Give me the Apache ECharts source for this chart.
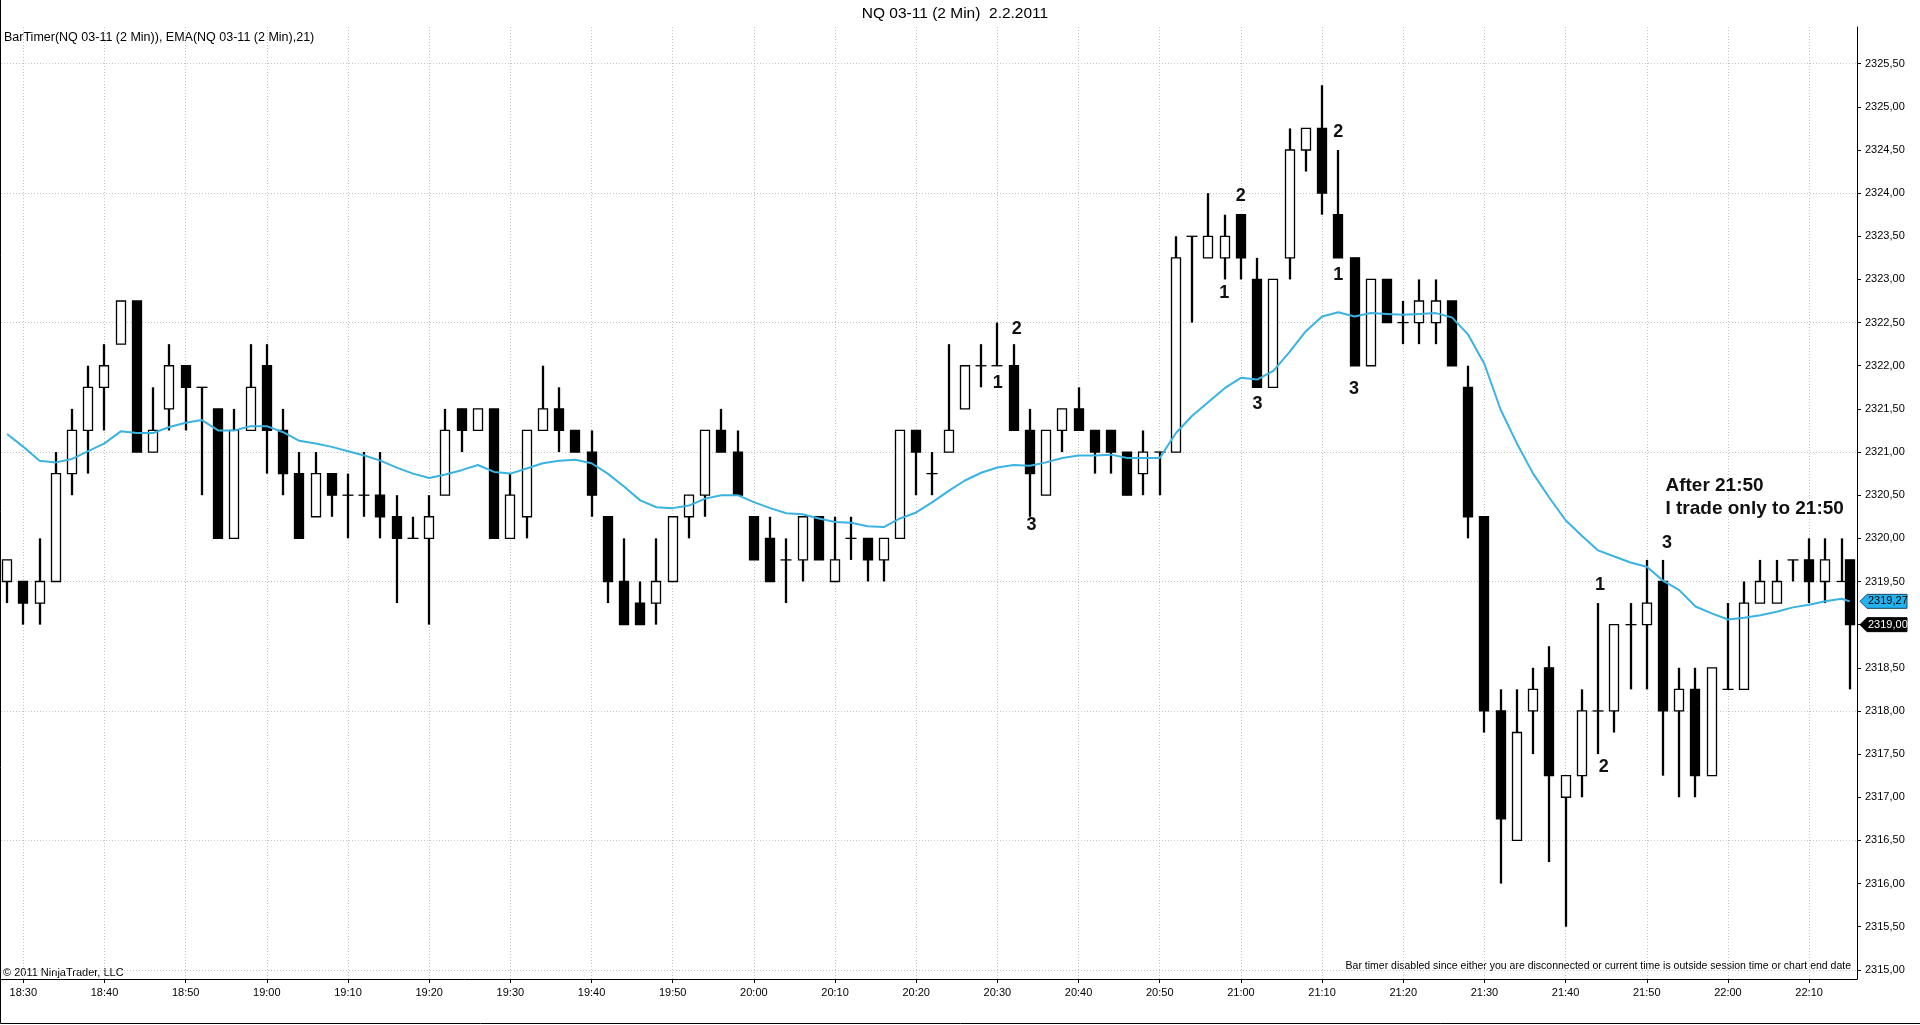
<!DOCTYPE html>
<html><head><meta charset="utf-8">
<script src="https://cdn.jsdelivr.net/npm/echarts/dist/echarts.min.js"></script>
<style>html,body{margin:0;padding:0;background:#fff;overflow:hidden}#c{width:1920px;height:1025px}</style>
</head><body><div id="c"></div>
<script>
// ---- data ----
const times = [
 "18:28",
 "18:30","18:32","18:34","18:36","18:38", "18:40","18:42","18:44","18:46","18:48",
 "18:50","18:52","18:54","18:56","18:58", "19:00","19:02","19:04","19:06","19:08",
 "19:10","19:12","19:14","19:16","19:18", "19:20","19:22","19:24","19:26","19:28",
 "19:30","19:32","19:34","19:36","19:38", "19:40","19:42","19:44","19:46","19:48",
 "19:50","19:52","19:54","19:56","19:58", "20:00","20:02","20:04","20:06","20:08",
 "20:10","20:12","20:14","20:16","20:18", "20:20","20:22","20:24","20:26","20:28",
 "20:30","20:32","20:34","20:36","20:38", "20:40","20:42","20:44","20:46","20:48",
 "20:50","20:52","20:54","20:56","20:58", "21:00","21:02","21:04","21:06","21:08",
 "21:10","21:12","21:14","21:16","21:18", "21:20","21:22","21:24","21:26","21:28",
 "21:30","21:32","21:34","21:36","21:38", "21:40","21:42","21:44","21:46","21:48",
 "21:50","21:52","21:54","21:56","21:58", "22:00","22:02","22:04","22:06","22:08",
 "22:10","22:12","22:14",
 "22:15"
];
const opens = [
 2319.5,
 2319.5,2319.25,2319.5,2320.75,2321.25, 2321.75,2322.25,2322.75,2321.0,2321.5,
 2322.0,2321.75,2321.5,2320.0,2321.25, 2322.0,2321.25,2320.75,2320.25,2320.75,
 2320.5,2320.5,2320.5,2320.25,2320.0, 2320.0,2320.5,2321.5,2321.25,2321.5,
 2320.0,2320.25,2321.25,2321.5,2321.25, 2321.0,2320.25,2319.5,2319.25,2319.25,
 2319.5,2320.25,2320.5,2321.25,2321.0, 2320.25,2320.0,2319.75,2319.75,2320.25,
 2319.5,2320.0,2320.0,2319.75,2320.0, 2321.25,2320.75,2321.0,2321.5,2322.0,
 2322.0,2322.0,2321.25,2320.5,2321.25, 2321.5,2321.25,2321.25,2321.0,2320.75,
 2321.0,2321.0,2323.5,2323.25,2323.25, 2323.75,2323.0,2321.75,2323.25,2324.5,
 2324.75,2323.75,2323.25,2322.0,2323.0, 2322.5,2322.5,2322.5,2322.75,2321.75,
 2320.25,2318.0,2316.5,2318.0,2318.5, 2317.0,2317.25,2318.0,2318.0,2319.0,
 2319.0,2319.5,2318.0,2318.25,2317.25, 2318.25,2318.25,2319.25,2319.25,2319.75,
 2319.75,2319.5,2319.5,
 2319.75
];
const highs = [
 2319.75,
 2319.5,2320.0,2321.0,2321.5,2322.0, 2322.25,2322.75,2322.75,2321.75,2322.25,
 2322.0,2321.75,2321.5,2321.5,2322.25, 2322.25,2321.5,2321.0,2321.0,2320.75,
 2320.75,2321.0,2321.0,2320.5,2320.25, 2320.5,2321.5,2321.5,2321.5,2321.5,
 2320.75,2321.25,2322.0,2321.75,2321.25, 2321.25,2320.25,2320.0,2319.5,2320.0,
 2320.25,2320.5,2321.25,2321.5,2321.25, 2320.25,2320.25,2320.0,2320.25,2320.25,
 2320.25,2320.25,2320.0,2320.0,2321.25, 2321.25,2321.0,2322.25,2322.0,2322.25,
 2322.5,2322.25,2321.5,2321.25,2321.5, 2321.75,2321.25,2321.25,2321.0,2321.25,
 2321.0,2323.5,2323.5,2324.0,2323.75, 2323.75,2323.25,2323.0,2324.75,2324.75,
 2325.25,2324.5,2323.25,2323.0,2323.0, 2322.75,2323.0,2323.0,2322.75,2322.0,
 2320.25,2318.25,2318.25,2318.5,2318.75, 2317.25,2318.25,2319.25,2319.0,2319.25,
 2319.75,2319.75,2318.5,2318.5,2318.5, 2319.25,2319.5,2319.75,2319.75,2319.75,
 2320.0,2320.0,2320.0,
 2319.75
];
const lows = [
 2319.25,
 2319.0,2319.0,2319.5,2320.5,2320.75, 2321.25,2322.25,2321.0,2321.0,2321.25,
 2321.25,2320.5,2320.0,2320.0,2321.25, 2320.75,2320.5,2320.0,2320.25,2320.25,
 2320.0,2320.25,2320.0,2319.25,2320.0, 2319.0,2320.5,2321.0,2321.25,2320.0,
 2320.0,2320.0,2321.25,2321.0,2321.0, 2320.25,2319.25,2319.0,2319.0,2319.0,
 2319.5,2320.0,2320.25,2321.0,2320.5, 2319.75,2319.5,2319.25,2319.5,2319.75,
 2319.5,2319.75,2319.5,2319.5,2320.0, 2320.5,2320.5,2321.0,2321.5,2321.75,
 2322.0,2321.25,2320.25,2320.5,2321.0, 2321.25,2320.75,2320.75,2320.5,2320.5,
 2320.5,2321.0,2322.5,2323.25,2323.0, 2323.0,2321.75,2321.75,2323.0,2324.25,
 2323.75,2323.25,2322.0,2322.0,2322.5, 2322.25,2322.25,2322.25,2322.0,2320.0,
 2317.75,2316.0,2316.5,2317.5,2316.25, 2315.5,2317.0,2317.5,2317.75,2318.25,
 2318.25,2317.25,2317.0,2317.0,2317.25, 2318.25,2318.25,2319.25,2319.25,2319.5,
 2319.25,2319.25,2319.5,
 2318.25
];
const closes = [
 2319.75,
 2319.25,2319.5,2320.75,2321.25,2321.75, 2322.0,2322.75,2321.0,2321.25,2322.0,
 2321.75,2321.75,2320.0,2321.25,2321.75, 2321.25,2320.75,2320.0,2320.75,2320.5,
 2320.5,2320.5,2320.25,2320.0,2320.0, 2320.25,2321.25,2321.25,2321.5,2320.0,
 2320.5,2321.25,2321.5,2321.25,2321.0, 2320.5,2319.5,2319.0,2319.0,2319.5,
 2320.25,2320.5,2321.25,2321.0,2320.5, 2319.75,2319.5,2319.75,2320.25,2319.75,
 2319.75,2320.0,2319.75,2320.0,2321.25, 2321.0,2320.75,2321.25,2322.0,2322.0,
 2322.0,2321.25,2320.75,2321.25,2321.5, 2321.25,2321.0,2321.0,2320.5,2321.0,
 2321.0,2323.25,2323.5,2323.5,2323.5, 2323.25,2321.75,2323.0,2324.5,2324.75,
 2324.0,2323.25,2322.0,2323.0,2322.5, 2322.5,2322.75,2322.75,2322.0,2320.25,
 2318.0,2316.75,2317.75,2318.25,2317.25, 2317.25,2318.0,2318.0,2319.0,2319.0,
 2319.25,2318.0,2318.25,2317.25,2318.5, 2318.25,2319.25,2319.5,2319.5,2319.75,
 2319.5,2319.75,2319.5,
 2319.0
];
const ema21 = [
 2321.21,
 2321.06,2320.90,2320.88,2320.92,2321.01, 2321.10,2321.24,2321.22,2321.22,2321.29,
 2321.34,2321.37,2321.25,2321.25,2321.30, 2321.30,2321.23,2321.13,2321.10,2321.06,
 2321.01,2320.96,2320.90,2320.82,2320.75, 2320.70,2320.74,2320.79,2320.85,2320.77,
 2320.75,2320.81,2320.87,2320.90,2320.91, 2320.87,2320.75,2320.60,2320.44,2320.36,
 2320.35,2320.38,2320.46,2320.50,2320.50, 2320.42,2320.35,2320.29,2320.28,2320.23,
 2320.19,2320.18,2320.14,2320.13,2320.23, 2320.30,2320.42,2320.55,2320.67,2320.76,
 2320.82,2320.85,2320.84,2320.88,2320.93, 2320.96,2320.96,2320.97,2320.93,2320.93,
 2320.93,2321.22,2321.42,2321.58,2321.74, 2321.86,2321.84,2321.94,2322.16,2322.40,
 2322.57,2322.62,2322.57,2322.61,2322.60, 2322.59,2322.60,2322.61,2322.56,2322.36,
 2322.02,2321.49,2321.10,2320.75,2320.47, 2320.21,2320.03,2319.86,2319.79,2319.72,
 2319.67,2319.51,2319.40,2319.21,2319.13, 2319.06,2319.08,2319.11,2319.15,2319.20,
 2319.23,2319.27,2319.30,
 2319.27
];
const timeTicks = ["18:30","18:40","18:50","19:00","19:10","19:20","19:30","19:40","19:50","20:00","20:10","20:20",
 "20:30","20:40","20:50","21:00","21:10","21:20","21:30","21:40","21:50","22:00","22:10"];
const priceTicks = [2315.0,2315.5,2316.0,2316.5,2317.0,2317.5,2318.0,2318.5,2319.0,2319.5,2320.0,2320.5,
 2321.0,2321.5,2322.0,2322.5,2323.0,2323.5,2324.0,2324.5,2325.0,2325.5];
const priceGridLines = [2315.0,2316.5,2318.0,2319.5,2321.0,2322.5,2324.0,2325.5];
// annotations: time (minutes after midnight), price, text
const annoMinutes = [1232.4,1230.05,1234.2,1257.96,1259.98,1262.06,1272.0,1272.0,1273.94,1304.25,1304.7,1312.5,1312.3,1312.3];
const annoPrices  = [2322.43,2321.80,2320.16,2322.84,2323.97,2321.56,2324.71,2323.05,2321.73,2319.46,2317.35,2319.95,2320.61,2320.34];
const annoTexts   = ["2","1","3","1","2","3","2","1","3","1","2","3","After 21:50","I trade only to 21:50"];

// ---- build ----
const FONT = '"Liberation Sans", Arial, sans-serif';
const toMin = s => { const p = s.split(':'); return (+p[0]) * 60 + (+p[1]); };
const fmtTime = v => { const h = Math.floor(v / 60), m = Math.round(v - h * 60); return h + ':' + (m < 10 ? '0' : '') + m; };
const fmtPrice = v => v.toFixed(2).replace('.', ',');
const tickMins = timeTicks.map(toMin);
const candles = times.map((t, i) => [toMin(t), opens[i], highs[i], lows[i], closes[i]]);
const emaData = times.map((t, i) => [toMin(t), ema21[i]]);
const last = times.length - 1;
const markers = [[toMin(times[last]), ema21[last], 0], [toMin(times[last]), closes[last], 1]];
const annos = annoTexts.map((t, i) => [annoMinutes[i], annoPrices[i]]);

const chart = echarts.init(document.getElementById('c'), null, {renderer: 'canvas'});
const gridStyle = {color: '#c4c4c4', type: [1, 2], width: 1};
chart.setOption({
  animation: false,
  backgroundColor: '#fff',
  grid: {left: 1, right: 63, top: 27, bottom: 46, containLabel: false},
  xAxis: {
    type: 'value', min: 1107.25, max: 1335.9,
    axisLine: {show: true, onZero: false, lineStyle: {color: '#000', width: 1}},
    axisTick: {show: true, customValues: tickMins, length: 4, lineStyle: {color: '#000'}},
    axisLabel: {customValues: tickMins, formatter: fmtTime, color: '#000', fontSize: 11, fontFamily: FONT, margin: 8},
    splitLine: {show: false}
  },
  yAxis: {
    type: 'value', position: 'right', min: 2314.894, max: 2325.925, scale: true,
    axisLine: {show: true, onZero: false, lineStyle: {color: '#000', width: 1}},
    axisTick: {show: true, customValues: priceTicks, length: 4, lineStyle: {color: '#000'}},
    axisLabel: {customValues: priceTicks, formatter: fmtPrice, color: '#000', fontSize: 11, fontFamily: FONT, margin: 8},
    splitLine: {show: false}
  },
  series: [
    {
      type: 'line', name: 'grid', data: [], z: 0, silent: true,
      markLine: {
        z: 0, silent: true, symbol: ['none', 'none'], label: {show: false}, animation: false,
        lineStyle: gridStyle, emphasis: {disabled: true},
        data: tickMins.map(v => ({xAxis: v})).concat(priceGridLines.map(v => ({yAxis: v})))
      }
    },
    {
      type: 'custom', name: 'NQ 03-11', data: candles, z: 3, silent: true,
      encode: {x: 0, y: [1, 2, 3, 4]},
      renderItem: function (params, api) {
        const t = api.value(0), o = api.value(1), h = api.value(2), l = api.value(3), c = api.value(4);
        const pO = api.coord([t, o]), pH = api.coord([t, h]), pL = api.coord([t, l]), pC = api.coord([t, c]);
        const x = Math.round(pO[0]);
        const hw = 5;
        const ch = [];
        if (h !== l) ch.push({type: 'line', shape: {x1: x, y1: pH[1], x2: x, y2: pL[1]}, style: {stroke: '#000', lineWidth: 2.3}});
        if (o === c) {
          ch.push({type: 'line', shape: {x1: x - hw - 0.5, y1: pO[1], x2: x + hw + 0.5, y2: pO[1]}, style: {stroke: '#000', lineWidth: 1.3}});
        } else {
          const top = Math.min(pO[1], pC[1]), bot = Math.max(pO[1], pC[1]);
          ch.push({type: 'rect', shape: {x: x - hw + 0.5, y: top, width: 2 * hw - 1, height: bot - top},
            style: {fill: c > o ? '#fff' : '#000', stroke: '#000', lineWidth: 1.3}});
        }
        return {type: 'group', children: ch};
      }
    },
    {
      type: 'line', name: 'EMA', data: emaData, z: 4, silent: true,
      showSymbol: false, symbol: 'none', smooth: false,
      lineStyle: {color: '#3ab3e0', width: 2}
    },
    {
      type: 'custom', name: 'annotations', data: annos, z: 6, silent: true, clip: false,
      renderItem: function (params, api) {
        const p = api.coord([api.value(0), api.value(1)]);
        const txt = annoTexts[params.dataIndex];
        const long = txt.length > 2;
        return {type: 'text', x: p[0], y: p[1], style: {
          text: txt, fill: '#111', font: 'bold ' + (long ? 19 : 18) + 'px ' + FONT,
          align: long ? 'left' : 'center', verticalAlign: 'middle'}};
      }
    },
    {
      type: 'custom', name: 'markers', data: markers, z: 10, silent: true, clip: false,
      renderItem: function (params, api) {
        const cs = params.coordSys;
        const y = api.coord([api.value(0), api.value(1)])[1];
        const x0 = cs.x + cs.width + 3;
        const isEma = api.value(2) === 0;
        return {type: 'group', children: [
          {type: 'polygon', shape: {points: [[x0, y], [x0 + 7, y - 7], [x0 + 47, y - 7], [x0 + 47, y + 7], [x0 + 7, y + 7]]},
            style: {fill: isEma ? '#22b2ee' : '#000', stroke: isEma ? '#1a4a66' : '#000', lineWidth: 1}},
          {type: 'text', x: x0 + 8, y: y, style: {text: fmtPrice(api.value(1)), fill: isEma ? '#000' : '#fff',
            font: '11px ' + FONT, align: 'left', verticalAlign: 'middle'}}
        ]};
      }
    }
  ],
  graphic: [
    {type: 'text', x: 955, y: 14, style: {text: 'NQ 03-11 (2 Min)  2.2.2011', font: '15.5px ' + FONT, fill: '#000', align: 'center', verticalAlign: 'middle'}},
    {type: 'text', x: 4, y: 38, style: {text: 'BarTimer(NQ 03-11 (2 Min)), EMA(NQ 03-11 (2 Min),21)', font: '12.5px ' + FONT, fill: '#000', align: 'left', verticalAlign: 'middle'}},
    {type: 'text', x: 3, y: 973, style: {text: '\u00a9 2011 NinjaTrader, LLC', font: '11px ' + FONT, fill: '#000', align: 'left', verticalAlign: 'middle'}},
    {type: 'text', x: 1851, y: 966, style: {text: 'Bar timer disabled since either you are disconnected or current time is outside session time or chart end date', font: '10.5px ' + FONT, fill: '#000', align: 'right', verticalAlign: 'middle'}},
    {type: 'polyline', shape: {points: [[0.5, 0], [0.5, 1023.5], [1920, 1023.5]]}, style: {stroke: '#000', lineWidth: 1, fill: null}}
  ]
});
</script>
</body></html>
